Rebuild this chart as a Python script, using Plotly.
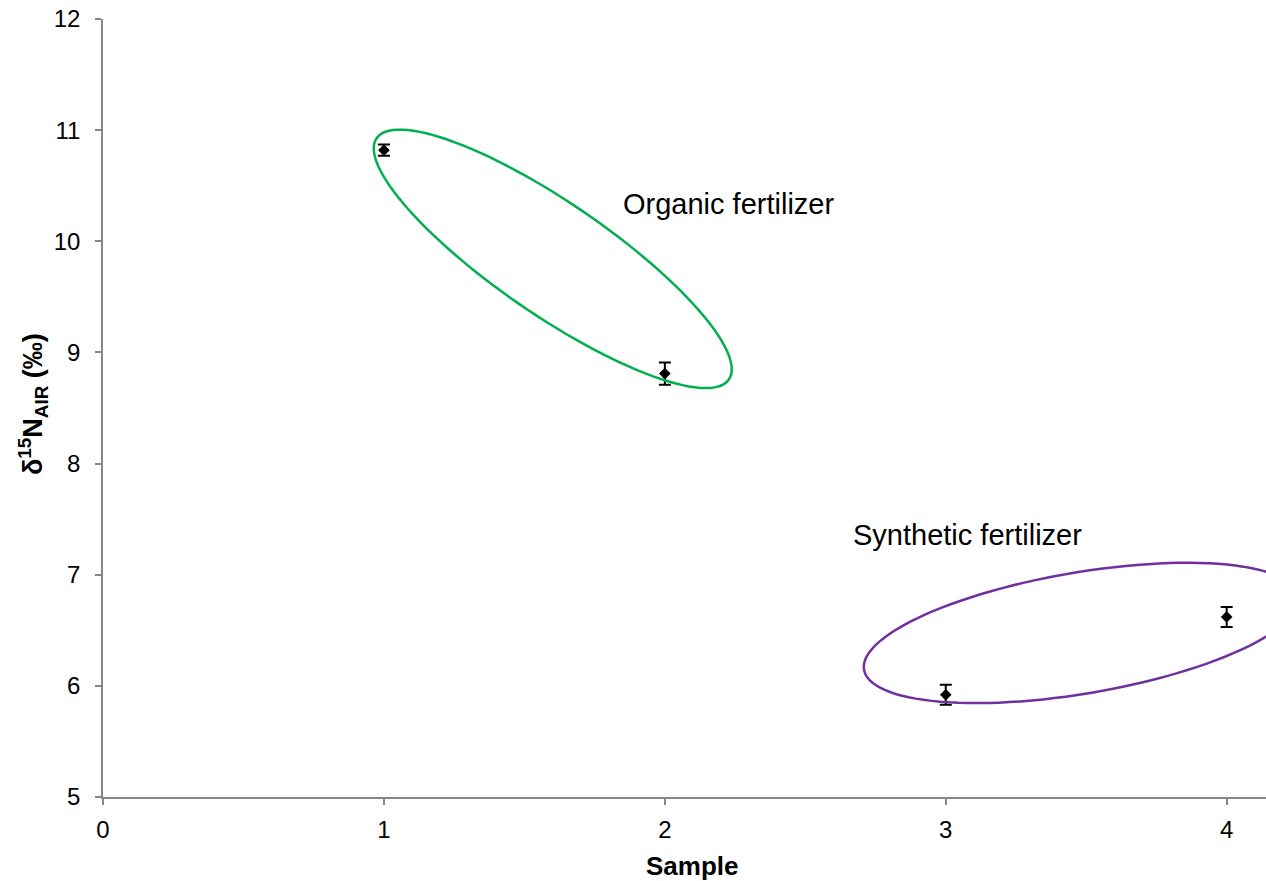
import numpy as np
import plotly.graph_objects as go

# Data
samples = [1, 2, 3, 4]
d15n = [10.82, 8.81, 5.92, 6.62]
d15n_err = [0.05, 0.10, 0.09, 0.09]
x_ticks = [0, 1, 2, 3, 4]
y_ticks = [5, 6, 7, 8, 9, 10, 11, 12]
group_labels = ["Organic fertilizer", "Synthetic fertilizer"]
x_title = "<b>Sample</b>"
y_title = "<b>δ<sup>15</sup>N<sub>AIR</sub> (‰)</b>"

W, H = 1266, 881
L, R, T, B = 103, 0, 19, 84
X_RANGE = [0, 4.14]
Y_RANGE = [5, 12]
px_x = (W - L - R) / (X_RANGE[1] - X_RANGE[0])
px_y = (H - T - B) / (Y_RANGE[1] - Y_RANGE[0])
FONT = "Liberation Sans, Arial, sans-serif"


def ellipse_path(cx, cy, a_px, b_px, ang_deg, n=120):
    t = np.linspace(0, 2 * np.pi, n)
    th = np.deg2rad(ang_deg)
    ex = a_px * np.cos(t) * np.cos(th) - b_px * np.sin(t) * np.sin(th)
    ey = a_px * np.cos(t) * np.sin(th) + b_px * np.sin(t) * np.cos(th)
    xs = cx + ex / px_x
    ys = cy + ey / px_y
    pts = [f"{x:.5f},{y:.5f}" for x, y in zip(xs, ys)]
    return "M" + " L".join(pts) + " Z"


fig = go.Figure()
fig.add_trace(go.Scatter(
    x=samples, y=d15n, mode="markers",
    marker=dict(symbol="diamond", size=9, color="black"),
    error_y=dict(type="data", array=d15n_err, visible=True,
                 color="black", thickness=2, width=6),
    showlegend=False,
))

fig.add_shape(type="path", xref="x", yref="y",
              path=ellipse_path(1.601, 9.842, 213.5, 56.2, -34.4),
              line=dict(color="#00B050", width=2.5))
fig.add_shape(type="path", xref="x", yref="y",
              path=ellipse_path(3.483, 6.476, 220.5, 60.6, 9.6),
              line=dict(color="#7030A0", width=2.5))

fig.add_annotation(x=2.227, y=10.335, text=group_labels[0], showarrow=False,
                   font=dict(size=29, color="black", family=FONT))
fig.add_annotation(x=3.079, y=7.357, text=group_labels[1], showarrow=False,
                   font=dict(size=29, color="black", family=FONT))

# axis titles placed as paper annotations
fig.add_annotation(xref="paper", yref="paper", x=0.5073, y=-0.0887,
                   xanchor="center", yanchor="middle", text=x_title, showarrow=False,
                   font=dict(size=26, color="black", family=FONT))
fig.add_annotation(xref="paper", yref="paper", x=-(103 - 33) / 1163, y=0.505,
                   xanchor="center", yanchor="middle", text=y_title, showarrow=False,
                   textangle=-90, font=dict(size=27, color="black", family=FONT))

axis_common = dict(showgrid=False, zeroline=False, showline=True,
                   linecolor="#868686", linewidth=1.5,
                   ticks="outside", ticklen=6, tickcolor="#868686", tickwidth=1.5,
                   tickfont=dict(size=24, color="black", family=FONT))

fig.update_xaxes(range=X_RANGE, tickvals=x_ticks, ticklabelstandoff=4, **axis_common)
fig.update_yaxes(range=Y_RANGE, tickvals=y_ticks, ticklabelstandoff=10, **axis_common)

fig.update_layout(
    width=W, height=H,
    margin=dict(l=L, r=R, t=T, b=B),
    plot_bgcolor="white", paper_bgcolor="white",
    font=dict(family=FONT, color="black"),
)

fig.write_html("out.html")
